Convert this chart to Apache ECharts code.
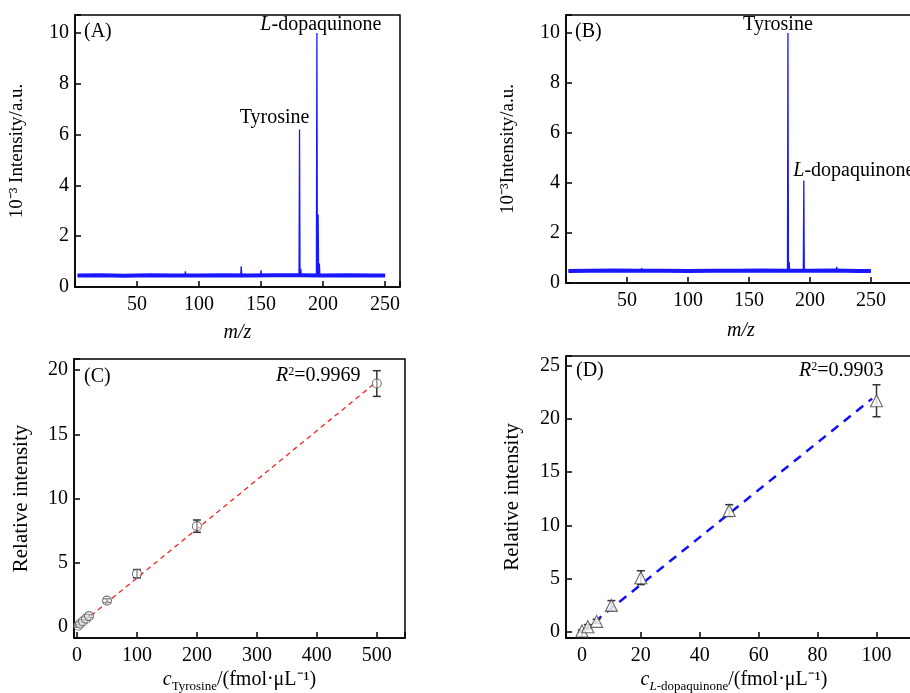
<!DOCTYPE html>
<html>
<head>
<meta charset="utf-8">
<script src="https://cdn.jsdelivr.net/npm/echarts@6.0.0/dist/echarts.min.js"></script>
<style>
  html, body { margin: 0; padding: 0; background: #fff; }
  #main { width: 910px; height: 693px; }
</style>
</head>
<body>
<div id="main"></div>
<script>
// ---- data ----
// (A) spectrum: baseline noise band + peaks
const baseMzA = [2, 20, 40, 60, 80, 100, 120, 140, 160, 180, 200, 220, 240, 250];
const baseIntA = [0.45, 0.46, 0.44, 0.46, 0.45, 0.45, 0.46, 0.45, 0.46, 0.46, 0.45, 0.46, 0.45, 0.45];
const peakMzA = [89, 134, 150, 181, 182, 195, 196, 197];
const peakIntA = [0.62, 0.82, 0.66, 6.2, 0.72, 10.0, 2.85, 0.92];

// (B) spectrum
const baseMzB = [2, 20, 40, 60, 80, 100, 120, 140, 160, 180, 200, 220, 240, 250];
const baseIntB = [0.48, 0.49, 0.5, 0.49, 0.49, 0.48, 0.49, 0.49, 0.5, 0.49, 0.49, 0.5, 0.48, 0.48];
const peakMzB = [62, 182, 183, 195, 222];
const peakIntB = [0.6, 10.0, 0.85, 4.1, 0.65];

// (C) tyrosine calibration
const concTyr = [2, 5, 10, 15, 20, 50, 100, 200, 500];
const intTyr = [0.1, 0.25, 0.45, 0.65, 0.85, 2.05, 4.15, 7.85, 18.95];
const errTyr = [0.1, 0.1, 0.1, 0.1, 0.12, 0.15, 0.32, 0.48, 1.0];
const fitTyr = [[0, 0], [500, 19.1]];
const r2Tyr = '0.9969';

// (D) L-dopaquinone calibration
const concDopa = [0, 2, 5, 10, 20, 50, 100];
const intDopa = [0.1, 0.5, 1.0, 2.5, 5.1, 11.4, 21.7];
const errDopa = [0.1, 0.2, 0.2, 0.45, 0.65, 0.55, 1.5];
const fitDopa = [[0, 0], [98.5, 21.9]];
const r2Dopa = '0.9903';

// ---- helpers ----
const FONT = '"Liberation Serif", "Times New Roman", serif';
const BLUE = '#1818ff';

function band(mz, it) {
  return mz.map((m, i) => [m, it[i]]);
}
// stick spectrum: each peak rises from the baseline and falls back
function sticks(mz, it, base) {
  const out = [[2, base]];
  mz.forEach((m, i) => {
    out.push([m - 0.4, base], [m, it[i]], [m + 0.4, base]);
  });
  out.push([250, base]);
  return out;
}
function errData(x, y, e) {
  return x.map((v, i) => [v, y[i] - e[i], y[i] + e[i]]);
}
function pts(x, y) {
  return x.map((v, i) => [v, y[i]]);
}
function multipleOf(step, lo, hi) {
  return v => {
    const k = v / step;
    if (Math.abs(k - Math.round(k)) > 1e-6) return '';
    if (v < lo - 1e-9 || v > hi + 1e-9) return '';
    return String(Math.round(v * 1000) / 1000);
  };
}

const axLine = { show: true, onZero: false, lineStyle: { color: '#000', width: 1.5 } };
const axTick = { show: true, inside: true, length: 6, lineStyle: { color: '#000', width: 1.5 } };

function xAxis(grid, min, max, split, name, gap, fmt, nameStyle) {
  return {
    type: 'value', gridIndex: grid, min: min, max: max, splitNumber: split,
    name: name, nameLocation: 'middle', nameGap: gap,
    nameTextStyle: Object.assign({ color: '#000', fontSize: 20, fontFamily: FONT }, nameStyle || {}),
    axisLine: axLine, axisTick: axTick, splitLine: { show: false },
    axisLabel: { color: '#000', fontSize: 20, fontFamily: FONT, margin: 8, formatter: fmt }
  };
}
function yAxis(grid, min, max, split, name, gap, fmt, size) {
  return {
    type: 'value', gridIndex: grid, min: min, max: max, splitNumber: split,
    name: name, nameLocation: 'middle', nameGap: gap,
    nameTextStyle: { color: '#000', fontSize: size, fontFamily: FONT },
    axisLine: axLine, axisTick: axTick, splitLine: { show: false },
    axisLabel: { color: '#000', fontSize: 20, fontFamily: FONT, margin: 6, formatter: fmt }
  };
}

function errorBars(idx, data) {
  return {
    type: 'custom', xAxisIndex: idx, yAxisIndex: idx, z: 3, data: data,
    renderItem: (params, api) => {
      const top = api.coord([api.value(0), api.value(2)]);
      const bot = api.coord([api.value(0), api.value(1)]);
      const st = { stroke: '#333', lineWidth: 1.5 };
      const w = 4;
      return {
        type: 'group',
        children: [
          { type: 'line', shape: { x1: top[0], y1: top[1], x2: bot[0], y2: bot[1] }, style: st },
          { type: 'line', shape: { x1: top[0] - w, y1: top[1], x2: top[0] + w, y2: top[1] }, style: st },
          { type: 'line', shape: { x1: bot[0] - w, y1: bot[1], x2: bot[0] + w, y2: bot[1] }, style: st }
        ]
      };
    }
  };
}

function peakLabel(coord, text, offset) {
  return {
    coord: coord, value: text,
    label: { offset: offset }
  };
}

const rich = {
  i: { fontStyle: 'italic', fontSize: 20, fontFamily: FONT, color: '#000' },
  n: { fontSize: 20, fontFamily: FONT, color: '#000' },
  sup: { fontSize: 12, fontFamily: FONT, color: '#000', verticalAlign: 'top' },
  sub: { fontSize: 13, fontFamily: FONT, color: '#000', verticalAlign: 'bottom', padding: [0, 0, -3, 0] },
  subi: { fontSize: 13, fontStyle: 'italic', fontFamily: FONT, color: '#000', verticalAlign: 'bottom', padding: [0, 0, -3, 0] }
};

const option = {
  backgroundColor: '#fff',
  animation: false,
  title: [
    { text: '(A)', left: 84, top: 22 },
    { text: '(B)', left: 575, top: 22 },
    { text: '(C)', left: 84, top: 367 },
    { text: '(D)', left: 576, top: 361 },
    { text: '{i|R}{sup|2}{n|=' + r2Tyr + '}', left: 276, top: 366 },
    { text: '{i|R}{sup|2}{n|=' + r2Dopa + '}', left: 799, top: 361 }
  ].map(t => Object.assign(t, {
    padding: 0,
    textStyle: { color: '#000', fontSize: 20, fontWeight: 'normal', fontFamily: FONT, rich: rich }
  })),
  grid: [
    { left: 75, top: 15, width: 325, height: 272 },
    { left: 566, top: 15, width: 350, height: 268 },
    { left: 74, top: 359, width: 331, height: 279 },
    { left: 566, top: 356, width: 360, height: 282 }
  ].map(g => Object.assign(g, {
    show: true, borderColor: '#000', borderWidth: 1.5, backgroundColor: 'transparent',
    containLabel: false, outerBoundsMode: 'none'
  })),
  xAxis: [
    xAxis(0, 0, 262, 5, 'm/z', 36, multipleOf(50, 50, 250), { fontStyle: 'italic' }),
    xAxis(1, 0, 287, 6, 'm/z', 38, multipleOf(50, 50, 250), { fontStyle: 'italic' }),
    xAxis(2, -5, 547, 5, '{i|c}{sub|Tyrosine}{n|/(fmol·μL⁻¹)}', 32, multipleOf(100, 0, 500), { rich: rich }),
    xAxis(3, -5.4, 116.8, 6, '{i|c}{subi|L}{sub|-dopaquinone}{n|/(fmol·μL⁻¹)}', 32, multipleOf(20, 0, 100), { rich: rich, padding: [0, 24, 0, 0] })
  ],
  yAxis: [
    yAxis(0, 0, 10.71, 5, '10⁻³ Intensity/a.u.', 48, multipleOf(2, 0, 10), 19),
    yAxis(1, 0, 10.72, 5, '10⁻³Intensity/a.u.', 48, multipleOf(2, 0, 10), 19),
    yAxis(2, -0.856, 20.86, 4, 'Relative intensity', 42, multipleOf(5, 0, 20), 21),
    yAxis(3, -0.56, 25.9, 5, 'Relative intensity', 43, multipleOf(5, 0, 25), 21)
  ],
  series: [
    // (A)
    {
      type: 'line', xAxisIndex: 0, yAxisIndex: 0, data: band(baseMzA, baseIntA),
      symbol: 'none', lineStyle: { color: BLUE, width: 4 }, silent: true
    },
    {
      type: 'line', xAxisIndex: 0, yAxisIndex: 0, data: sticks(peakMzA, peakIntA, 0.45),
      symbol: 'none', lineStyle: { color: BLUE, width: 1.3 },
      markPoint: {
        symbol: 'circle', symbolSize: 0,
        label: {
          show: true, position: 'top', distance: 0, color: '#000', fontSize: 20, fontFamily: FONT,
          formatter: p => p.value, rich: rich
        },
        data: [
          peakLabel([181, 6.2], 'Tyrosine', [-25, -2]),
          peakLabel([195, 10.0], '{i|L}{n|-dopaquinone}', [4, 2])
        ]
      }
    },
    // (B)
    {
      type: 'line', xAxisIndex: 1, yAxisIndex: 1, data: band(baseMzB, baseIntB),
      symbol: 'none', lineStyle: { color: BLUE, width: 4 }, silent: true
    },
    {
      type: 'line', xAxisIndex: 1, yAxisIndex: 1, data: sticks(peakMzB, peakIntB, 0.49),
      symbol: 'none', lineStyle: { color: BLUE, width: 1.3 },
      markPoint: {
        symbol: 'circle', symbolSize: 0,
        label: {
          show: true, position: 'top', distance: 0, color: '#000', fontSize: 20, fontFamily: FONT,
          formatter: p => p.value, rich: rich
        },
        data: [
          peakLabel([182, 10.0], 'Tyrosine', [-10, 2]),
          peakLabel([195, 4.1], '{i|L}{n|-dopaquinone}', [50, 0])
        ]
      }
    },
    // (C)
    {
      type: 'line', xAxisIndex: 2, yAxisIndex: 2, data: fitTyr, symbol: 'none', z: 2,
      lineStyle: { color: '#ff2020', width: 1.3, type: [5, 4] }
    },
    errorBars(2, errData(concTyr, intTyr, errTyr)),
    {
      type: 'scatter', xAxisIndex: 2, yAxisIndex: 2, data: pts(concTyr, intTyr), z: 4,
      symbol: 'circle', symbolSize: 9,
      itemStyle: { color: 'rgba(255,255,255,0.6)', borderColor: '#555', borderWidth: 1.1 }
    },
    // (D)
    {
      type: 'line', xAxisIndex: 3, yAxisIndex: 3, data: fitDopa, symbol: 'none', z: 2,
      lineStyle: { color: '#1010ff', width: 2.5, type: [9, 7] }
    },
    errorBars(3, errData(concDopa, intDopa, errDopa)),
    {
      type: 'scatter', xAxisIndex: 3, yAxisIndex: 3, data: pts(concDopa, intDopa), z: 4,
      symbol: 'triangle', symbolSize: 12,
      itemStyle: { color: '#fff', borderColor: '#444', borderWidth: 1.1 }
    }
  ]
};

const chart = echarts.init(document.getElementById('main'), null, { renderer: 'canvas' });
chart.setOption(option);
</script>
</body>
</html>
